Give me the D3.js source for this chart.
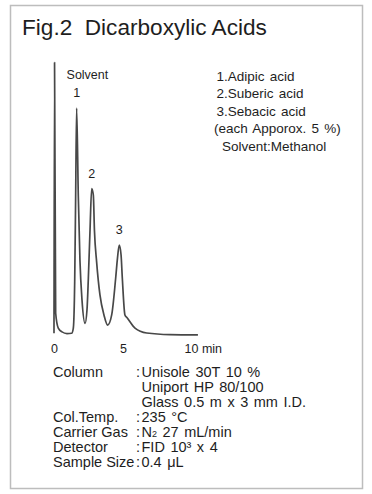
<!DOCTYPE html>
<html>
<head>
<meta charset="utf-8">
<script src="https://cdn.jsdelivr.net/npm/d3@7"></script>
<style>
  html, body { margin: 0; padding: 0; background: #fff; }
  svg text { font-family: "Liberation Sans", Arial, sans-serif; fill: #1e1e1e; }
</style>
</head>
<body>
<div id="wrapper"></div>
<script>
// chromatogram trace: time (min) and detector response (% of full scale)
const times = [0.0, 0.04, 0.12, 0.31, 0.58, 0.94, 1.28, 1.40, 1.50, 1.57, 1.64, 1.76, 1.88, 2.03, 2.25,
  2.39, 2.49, 2.61, 2.73, 2.85, 2.93, 3.09, 3.33, 3.62, 3.89,
  4.18, 4.47, 4.60, 4.73, 4.86, 4.95, 5.14, 5.31, 5.87, 6.72, 8.40, 10.43];
const response = [1.0, 100, 8.4, 2.9, 1.5, 0.9, 1.0, 2.9, 20, 51.5, 83.3, 51.5, 27.7, 13.1, 4.6,
  9.5, 21.2, 38.7, 53.9, 51.5, 38.7, 27.0, 15.0, 7.7, 4.0,
  7.7, 21.2, 28.5, 33.2, 29.6, 21.2, 7.7, 6.6, 2.9, 1.1, 0.5, 0.4];

const peakNames = ["1", "2", "3"];
const peakTimes = [1.64, 2.73, 4.73];
const peakHeights = [83.3, 53.9, 33.2];

const tickValues = [0, 5, 10];
const tickLabels = ["0", "5", "10 min"];

const legendLines = ["1.Adipic acid", "2.Suberic acid", "3.Sebacic acid", "(each Apporox. 5 %)", "Solvent:Methanol"];
const legendIndent = [0, 0, 0, -2.5, 5.5];

const condLabels = ["Column", "", "", "Col.Temp.", "Carrier Gas", "Detector", "Sample Size"];
const condColons = [":", "", "", ":", ":", ":", ":"];
const condValues = ["Unisole 30T 10 %", "Uniport HP 80/100", "Glass 0.5 m x 3 mm I.D.", "235 °C", "N|2| 27 mL/min", "FID 10³ x 4", "0.4 μL"];

const width = 372, height = 494;

const svg = d3.select("#wrapper")
  .append("svg")
  .attr("width", width)
  .attr("height", height);

// frame
svg.append("rect")
  .attr("x", 10.5).attr("y", 5.5)
  .attr("width", 352).attr("height", 483)
  .attr("fill", "none")
  .attr("stroke", "#bdbdbd")
  .attr("stroke-width", 1.5);

svg.append("text")
  .attr("x", 22).attr("y", 35)
  .style("font-size", "22.6px")
  .text("Fig.2\u00a0\u00a0Dicarboxylic Acids");

// scales
const xScale = d3.scaleLinear().domain([0, 10]).range([54, 192]);
const yScale = d3.scaleLinear().domain([0, 100]).range([336, 62.5]);

const data = times.map((t, i) => ({ t, v: response[i] }));

const line = d3.line()
  .x(d => xScale(d.t))
  .y(d => yScale(d.v))
  .curve(d3.curveMonotoneX);

svg.append("path")
  .datum(data)
  .attr("d", line)
  .attr("fill", "none")
  .attr("stroke", "#484848")
  .attr("stroke-width", 1.7)
  .attr("stroke-linejoin", "round");

// peak labels
svg.append("text")
  .attr("x", xScale(0.04) + 12)
  .attr("y", yScale(100) + 16.5)
  .style("font-size", "12.5px")
  .text("Solvent");

svg.selectAll(".peak")
  .data(peakNames)
  .join("text")
  .attr("class", "peak")
  .attr("x", (d, i) => xScale(peakTimes[i]))
  .attr("y", (d, i) => yScale(peakHeights[i]) - 11)
  .attr("text-anchor", "middle")
  .style("font-size", "12.5px")
  .text(d => d);

// time axis: labels only
const xAxis = svg.append("g")
  .attr("transform", "translate(0, 341)")
  .call(d3.axisBottom(xScale)
    .tickValues(tickValues)
    .tickSize(0)
    .tickFormat((d, i) => tickLabels[i]));
xAxis.select(".domain").remove();
xAxis.selectAll("text")
  .attr("fill", "#1e1e1e")
  .style("font-size", "12.5px")
  .style("font-family", "'Liberation Sans', Arial, sans-serif")
  .attr("text-anchor", (d, i) => i === 2 ? "start" : "middle")
  .attr("x", (d, i) => i === 2 ? -8 : 0);

// legend on the right
svg.selectAll(".legend")
  .data(legendLines)
  .join("text")
  .attr("class", "legend")
  .attr("x", (d, i) => 216.5 + legendIndent[i])
  .attr("y", (d, i) => 80.5 + i * 17.6)
  .style("font-size", "13.5px")
  .style("word-spacing", "1.5px")
  .text(d => d);

// conditions
const rowY = i => 377 + i * 15;

svg.selectAll(".clabel")
  .data(condLabels)
  .join("text")
  .attr("class", "clabel")
  .attr("x", 53)
  .attr("y", (d, i) => rowY(i))
  .style("font-size", "14.5px")
  .text(d => d);

svg.selectAll(".ccolon")
  .data(condColons)
  .join("text")
  .attr("class", "ccolon")
  .attr("x", 136)
  .attr("y", (d, i) => rowY(i))
  .style("font-size", "14.5px")
  .text(d => d);

const cv = svg.selectAll(".cvalue")
  .data(condValues)
  .join("text")
  .attr("class", "cvalue")
  .attr("x", 141.5)
  .attr("y", (d, i) => rowY(i))
  .style("font-size", "14.5px")
  .style("word-spacing", "1.5px");

cv.each(function(d) {
  const parts = d.split("|");
  const el = d3.select(this);
  parts.forEach((p, j) => {
    const ts = el.append("tspan").text(p);
    if (j === 1) ts.style("font-size", "9px");
  });
});
</script>
</body>
</html>
